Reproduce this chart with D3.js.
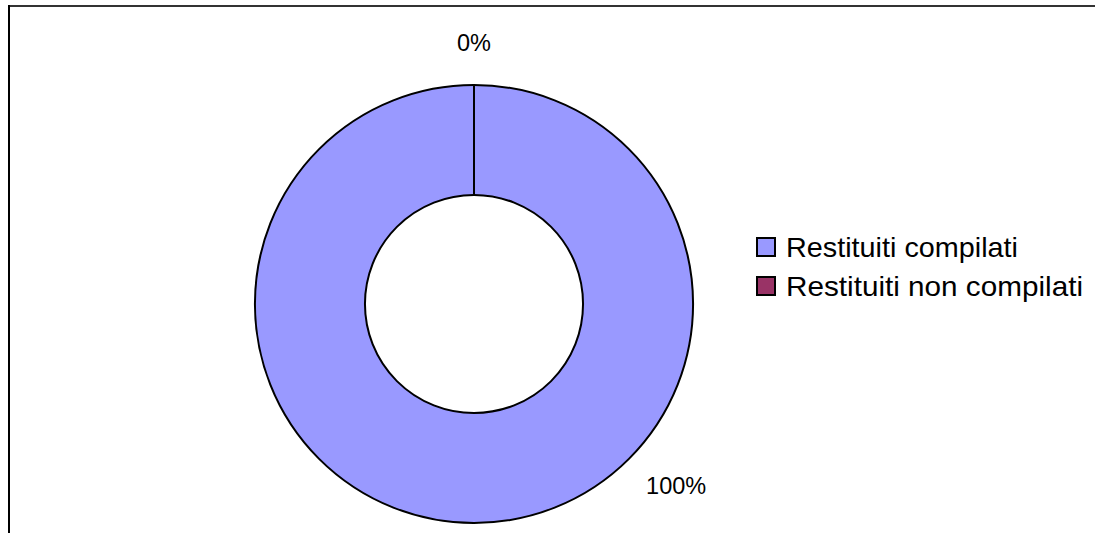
<!DOCTYPE html>
<html><head><meta charset="utf-8">
<script src="https://cdn.jsdelivr.net/npm/d3@7"></script>
<style>html,body{margin:0;padding:0;background:#fff;}svg{display:block;}</style>
</head><body>
<svg id="c" width="1095" height="533"></svg>
<script>
const categories = ["Restituiti compilati", "Restituiti non compilati"];
const values = [100, 0];
const percentLabels = ["100%", "0%"];
const colors = ["#9999FF", "#993366"];

const svg = d3.select("#c");
// chart border (top and left visible)
svg.append("line").attr("x1", 8).attr("x2", 1095).attr("y1", 6).attr("y2", 6)
  .attr("stroke", "#333").attr("stroke-width", 2);
svg.append("line").attr("x1", 9).attr("x2", 9).attr("y1", 5).attr("y2", 533)
  .attr("stroke", "#000").attr("stroke-width", 2);

const cx = 474, cy = 304, rOuter = 219, rInner = 109;
const g = svg.append("g").attr("transform", `translate(${cx},${cy})`);
const pie = d3.pie().sort(null).value(d => d)(values);
const arc = d3.arc().innerRadius(rInner).outerRadius(rOuter);
g.selectAll("path.slice").data(pie).enter().append("path")
  .attr("class", "slice")
  .attr("d", arc)
  .attr("fill", (d, i) => colors[i])
  .attr("stroke", "#000").attr("stroke-width", 2);
// zero slice boundary line
g.selectAll("line.sep").data(pie.filter(d => d.value === 0)).enter().append("line")
  .attr("x1", d => rInner * Math.sin(d.startAngle)).attr("y1", d => -rInner * Math.cos(d.startAngle))
  .attr("x2", d => rOuter * Math.sin(d.startAngle)).attr("y2", d => -rOuter * Math.cos(d.startAngle))
  .attr("stroke", "#000").attr("stroke-width", 2);

// percent labels
const labelPos = [{a: 132 * Math.PI / 180, r: 272}, {a: 0, r: 261}];
g.selectAll("text.pct").data(pie).enter().append("text")
  .attr("class", "pct")
  .attr("x", (d, i) => labelPos[i].r * Math.sin(labelPos[i].a))
  .attr("y", (d, i) => -labelPos[i].r * Math.cos(labelPos[i].a))
  .attr("dy", "0.35em")
  .attr("text-anchor", "middle")
  .attr("font-family", "Liberation Sans, Arial, sans-serif")
  .attr("font-size", 23.5)
  .attr("fill", "#000")
  .text((d, i) => percentLabels[i]);

// legend
const lg = svg.append("g").attr("transform", "translate(757,238)");
const rows = lg.selectAll("g").data(categories).enter().append("g")
  .attr("transform", (d, i) => `translate(0,${i * 39})`);
rows.append("rect").attr("width", 18).attr("height", 18)
  .attr("fill", (d, i) => colors[i]).attr("stroke", "#000").attr("stroke-width", 2);
rows.append("text").attr("x", 29).attr("y", 19)
  .attr("font-family", "Liberation Sans, Arial, sans-serif")
  .attr("font-size", 28)
  .attr("textLength", (d, i) => i === 0 ? 232 : 297)
  .attr("lengthAdjust", "spacingAndGlyphs")
  .attr("fill", "#000")
  .text(d => d);
</script>
</body></html>
